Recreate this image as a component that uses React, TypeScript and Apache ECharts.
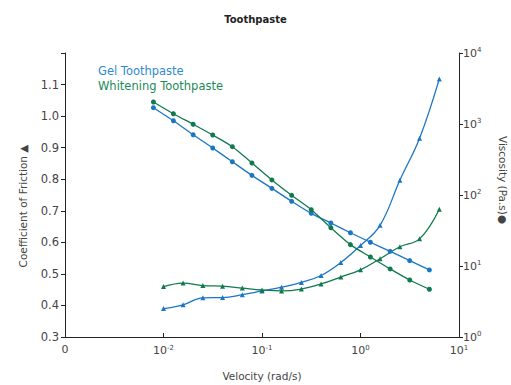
import React, { useEffect, useRef } from "react";
import * as echarts from "echarts";

const velocityFriction = [0.01, 0.0158, 0.0251, 0.0398, 0.0631, 0.1, 0.158, 0.251, 0.398, 0.631, 1, 1.58, 2.51, 3.98, 6.31];
const gelFriction = [0.39, 0.402, 0.424, 0.425, 0.434, 0.446, 0.458, 0.473, 0.495, 0.536, 0.59, 0.654, 0.797, 0.93, 1.118];
const whiteFriction = [0.46, 0.471, 0.463, 0.461, 0.455, 0.449, 0.446, 0.452, 0.468, 0.49, 0.513, 0.548, 0.586, 0.611, 0.705];

const velocityViscosity = [0.0079, 0.0126, 0.02, 0.0316, 0.05, 0.079, 0.126, 0.2, 0.316, 0.5, 0.79, 1.26, 2, 3.16, 5];
const gelViscosity = [1698, 1112, 706, 459, 294, 189, 124, 81.5, 55.2, 40.3, 29.4, 21.6, 16.1, 11.9, 8.8];
const whiteViscosity = [2042, 1396, 991, 700, 479, 282, 163, 99, 62, 34.6, 20, 13.4, 9.1, 6.35, 4.7];

const xTickLabels: Record<string, string> = { "-3": "0", "-2": "10^-2", "-1": "10^-1", "0": "10^0", "1": "10^1" };
const yRightTickLabels: Record<string, string> = { "0": "10^0", "1": "10^1", "2": "10^2", "3": "10^3", "4": "10^4" };

const BLUE = "#1b76c5";
const GREEN = "#107a4f";
const FONT = "'DejaVu Sans', sans-serif";
const TEXT = "#444";

function toRich(s: string) {
  if (s.indexOf("^") < 0) return `{a|${s}}`;
  const [b, e] = s.split("^");
  return `{a|${b}}{b|${e}}`;
}

const rich = {
  a: { fontSize: 11, color: TEXT, fontFamily: FONT },
  b: { fontSize: 7, color: TEXT, fontFamily: FONT, padding: [0, 0, 6, 0] },
};

export default function App() {
  const ref = useRef<HTMLDivElement>(null);
  useEffect(() => {
    if (!ref.current) return;
    const chart = echarts.init(ref.current, undefined, { renderer: "svg" });
    const pair = (xs: number[], ys: number[]) => xs.map((x, i) => [x, ys[i]]);
    chart.setOption({
      animation: false,
      backgroundColor: "#fff",
      title: {
        text: "Toothpaste",
        left: "center",
        top: 9,
        textStyle: { fontSize: 10, fontWeight: "bold", color: "#222", fontFamily: FONT },
      },
      grid: { left: 65, right: 52, top: 53, bottom: 48, outerBoundsMode: "none", containLabel: false },
      xAxis: {
        type: "log",
        logBase: 10,
        min: 0.001,
        max: 10,
        name: "Velocity (rad/s)",
        nameLocation: "middle",
        nameGap: 33,
        nameTextStyle: { fontSize: 10.5, color: TEXT, fontFamily: FONT },
        axisLine: { lineStyle: { color: "#222", width: 1 } },
        axisTick: { inside: true, length: 4, lineStyle: { color: "#222" } },
        minorTick: { show: false },
        splitLine: { show: false },
        axisLabel: {
          margin: 7,
          formatter: (v: number) => {
            const k = String(Math.round(Math.log10(v)));
            return toRich(xTickLabels[k] ?? "");
          },
          rich,
        },
      },
      yAxis: [
        {
          type: "value",
          min: 0.3,
          max: 1.2,
          interval: 0.1,
          axisLine: { show: true, lineStyle: { color: "#222" } },
          axisTick: { show: true, length: 4, lineStyle: { color: "#222" } },
          splitLine: { show: false },
          axisLabel: {
            fontSize: 11.5,
            color: TEXT,
            fontFamily: FONT,
            margin: 6,
            formatter: (v: number) => (v > 1.15 ? "" : v.toFixed(1)),
          },
        },
        {
          type: "log",
          logBase: 10,
          min: 1,
          max: 10000,
          position: "right",
          axisLine: { show: true, lineStyle: { color: "#222" } },
          axisTick: { show: true, length: 4, lineStyle: { color: "#222" } },
          minorTick: { show: false },
          splitLine: { show: false },
          axisLabel: {
            margin: 4,
            formatter: (v: number) => {
              const k = String(Math.round(Math.log10(v)));
              return toRich(yRightTickLabels[k] ?? "");
            },
            rich,
          },
        },
      ],
      graphic: [
        {
          type: "text",
          x: 98,
          y: 71,
          style: { text: "Gel Toothpaste", fill: "#2f8ad3", fontSize: 11.5, fontFamily: FONT, verticalAlign: "middle" },
        },
        {
          type: "text",
          x: 98,
          y: 86,
          style: { text: "Whitening Toothpaste", fill: "#1b8a5a", fontSize: 11.5, fontFamily: FONT, verticalAlign: "middle" },
        },
        {
          type: "text",
          x: 23,
          y: 206,
          rotation: Math.PI / 2,
          style: { text: "Coefficient of Friction ▲", fill: TEXT, fontSize: 10.5, fontFamily: FONT, align: "center", verticalAlign: "middle" },
        },
        {
          type: "text",
          x: 503,
          y: 180,
          rotation: -Math.PI / 2,
          style: { text: "Viscosity (Pa.s)●", fill: TEXT, fontSize: 10.5, fontFamily: FONT, align: "center", verticalAlign: "middle" },
        },
      ],
      series: [
        {
          name: "Gel friction",
          type: "line",
          yAxisIndex: 0,
          smooth: 0.4,
          symbol: "triangle",
          symbolSize: 5,
          data: pair(velocityFriction, gelFriction),
          lineStyle: { color: BLUE, width: 1.3 },
          itemStyle: { color: BLUE },
        },
        {
          name: "Whitening friction",
          type: "line",
          yAxisIndex: 0,
          smooth: 0.4,
          symbol: "triangle",
          symbolSize: 5,
          data: pair(velocityFriction, whiteFriction),
          lineStyle: { color: GREEN, width: 1.3 },
          itemStyle: { color: GREEN },
        },
        {
          name: "Gel viscosity",
          type: "line",
          yAxisIndex: 1,
          smooth: 0.3,
          symbol: "circle",
          symbolSize: 5,
          data: pair(velocityViscosity, gelViscosity),
          lineStyle: { color: BLUE, width: 1.3 },
          itemStyle: { color: BLUE },
        },
        {
          name: "Whitening viscosity",
          type: "line",
          yAxisIndex: 1,
          smooth: 0.3,
          symbol: "circle",
          symbolSize: 5,
          data: pair(velocityViscosity, whiteViscosity),
          lineStyle: { color: GREEN, width: 1.3 },
          itemStyle: { color: GREEN },
        },
      ],
    });
    return () => chart.dispose();
  }, []);
  return <div ref={ref} style={{ width: 511, height: 385, position: "absolute", left: 0, top: 0 }} />;
}
